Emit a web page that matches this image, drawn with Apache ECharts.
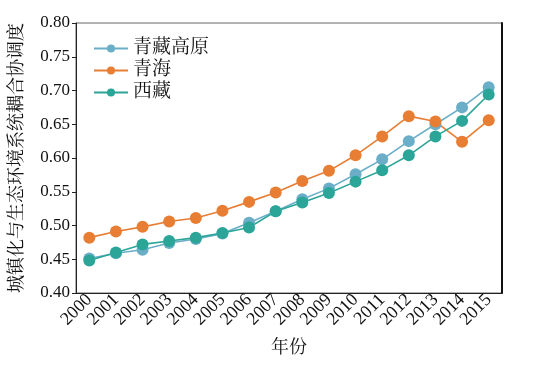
<!DOCTYPE html>
<html><head><meta charset="utf-8">
<script src="https://cdn.jsdelivr.net/npm/echarts@6/dist/echarts.min.js"></script>
<style>html,body{margin:0;padding:0;background:#fff}#c{width:539px;height:366px}</style>
</head><body><div id="c"></div>
<script>
const years = ['2000','2001','2002','2003','2004','2005','2006','2007','2008','2009','2010','2011','2012','2013','2014','2015'];
const qzPlateau = [0.451,0.459,0.464,0.474,0.480,0.488,0.504,0.521,0.539,0.555,0.576,0.598,0.625,0.650,0.675,0.705];
const qinghai = [0.482,0.491,0.498,0.506,0.511,0.522,0.535,0.549,0.566,0.581,0.604,0.632,0.662,0.654,0.624,0.656];
const xizang = [0.448,0.460,0.472,0.477,0.482,0.489,0.497,0.521,0.534,0.548,0.565,0.582,0.604,0.632,0.655,0.694];
const seriesNames = ['青藏高原','青海','西藏'];
const yTicks = {min:0.40, max:0.80, interval:0.05};

const FONT = "'Liberation Serif','Noto Serif CJK SC','Noto Sans CJK SC',serif";
const colors = ['#6aaec8','#e87d34','#2aa598'];
const chart = echarts.init(document.getElementById('c'), null, {renderer:'canvas'});
function mk(name, data, color){
  return {name, type:'line', data, symbol:'circle', symbolSize:12,
    lineStyle:{color, width:1.6}, itemStyle:{color}, z: 2};
}
chart.setOption({
  animation:false,
  textStyle:{fontFamily:FONT},
  grid:{left:72,right:37,top:23,bottom:73,show:true,borderColor:'#666',borderWidth:1},
  legend:{left:88,top:34,orient:'vertical',itemWidth:34,itemHeight:10,itemGap:3,
    textStyle:{fontFamily:FONT,fontSize:19,color:'#111',lineHeight:18},
    data:seriesNames},
  xAxis:{type:'category',data:years,boundaryGap:true,
    name:'年份',nameLocation:'middle',nameGap:46,
    nameTextStyle:{fontFamily:FONT,fontSize:18,color:'#111'},
    axisLine:{lineStyle:{color:'#222',width:1}},
    axisTick:{inside:true,length:5,lineStyle:{color:'#222'}},
    axisLabel:{rotate:45,fontSize:18,color:'#111',margin:4,fontFamily:FONT,interval:0}},
  yAxis:[{type:'value',min:yTicks.min,max:yTicks.max,interval:yTicks.interval,
    name:'城镇化与生态环境系统耦合协调度',nameLocation:'middle',nameGap:50,nameRotate:90,
    nameTextStyle:{fontFamily:FONT,fontSize:18,color:'#111'},
    splitLine:{show:false},
    axisLine:{show:true,lineStyle:{color:'#222',width:1}},
    axisTick:{show:true,length:4,lineStyle:{color:'#222'}},
    axisLabel:{fontSize:17,color:'#111',margin:6,fontFamily:FONT,formatter:v=>v.toFixed(2)}},
   {type:'value',min:yTicks.min,max:yTicks.max,interval:yTicks.interval,position:'right',
    splitLine:{show:false},axisLabel:{show:false},axisTick:{show:false},
    axisLine:{show:true,lineStyle:{color:'#111',width:2}}}],
  series:[mk(seriesNames[0],qzPlateau,colors[0]),mk(seriesNames[1],qinghai,colors[1]),mk(seriesNames[2],xizang,colors[2])]
});
</script></body></html>
